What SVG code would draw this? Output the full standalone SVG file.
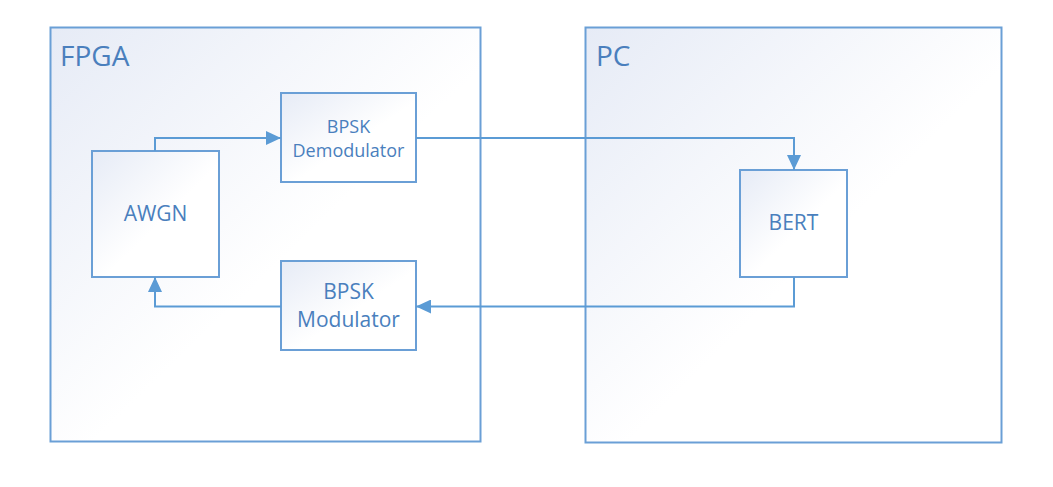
<svg xmlns="http://www.w3.org/2000/svg" width="1053" height="487" viewBox="0 0 1053 487">
<defs>
<linearGradient id="g" x1="0" y1="0" x2="1" y2="1">
<stop offset="0" stop-color="#e6ebf6"/>
<stop offset="0.55" stop-color="#ffffff"/>
<stop offset="1" stop-color="#ffffff"/>
</linearGradient>
<marker id="ah" markerUnits="userSpaceOnUse" markerWidth="16" markerHeight="14" refX="15" refY="7" orient="auto">
<path d="M0,0 L15,7 L0,14 z" fill="#5b9bd5"/>
</marker>
<style>
.box{fill:url(#g);stroke:#6a9fd6;stroke-width:2}
.t{font-family:"Open Sans","Noto Sans",sans-serif;fill:#4a7fbd;text-anchor:middle}
.big{font-size:21px}
.sm{font-size:18px}
.title{font-family:"Open Sans","Noto Sans",sans-serif;fill:#4a7fbd;font-size:28px}
.c{fill:none;stroke:#5b9bd5;stroke-width:2;marker-end:url(#ah)}
</style>
</defs>
<rect width="1053" height="487" fill="#ffffff"/>
<g id="fpga">
<rect class="box" x="50.5" y="27.5" width="430" height="414"/>
<text class="title" x="60" y="66">FPGA</text>
</g>
<g id="pc">
<rect class="box" x="585.5" y="27.5" width="416" height="415"/>
<text class="title" x="596" y="66">PC</text>
</g>
<g id="awgn">
<rect class="box" x="92" y="151" width="127" height="126"/>
<text class="t big" x="155.5" y="221">AWGN</text>
</g>
<g id="demod">
<rect class="box" x="281" y="93" width="135" height="89"/>
<text class="t sm" x="348.5" y="133">BPSK</text>
<text class="t sm" x="348.5" y="157">Demodulator</text>
</g>
<g id="mod">
<rect class="box" x="281" y="261" width="135" height="89"/>
<text class="t big" x="348.5" y="299">BPSK</text>
<text class="t big" x="348.5" y="327">Modulator</text>
</g>
<g id="bert">
<rect class="box" x="740" y="170" width="107" height="107"/>
<text class="t big" x="793.5" y="230">BERT</text>
</g>
<g id="connectors">
<path class="c" d="M155,151 V138 H281"/>
<path class="c" d="M416,138 H794 V170"/>
<path class="c" d="M794,277 V306.5 H416"/>
<path class="c" d="M281,306.5 H155 V277"/>
</g>
</svg>
